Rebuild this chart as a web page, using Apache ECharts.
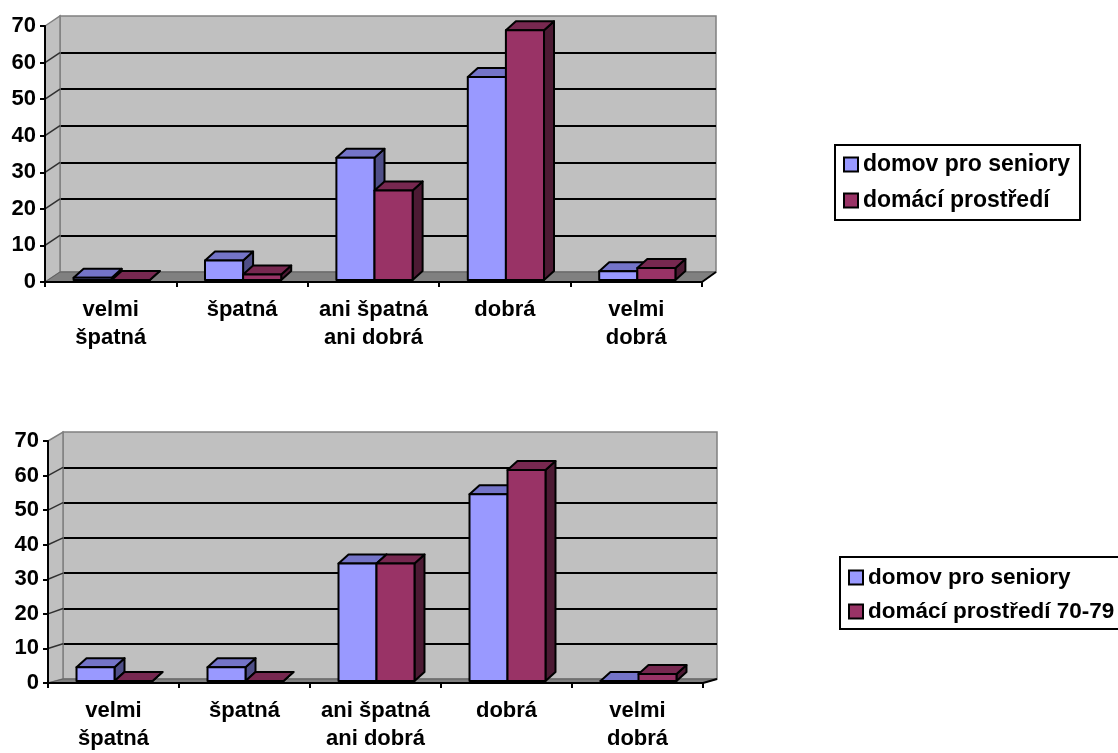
<!DOCTYPE html>
<html>
<head>
<meta charset="utf-8">
<script src="https://cdn.jsdelivr.net/npm/echarts@6/dist/echarts.min.js"></script>
<style>
  html, body { margin: 0; padding: 0; background: #fff; }
  #chart { width: 1118px; height: 753px; }
</style>
</head>
<body>
<div id="chart"></div>
<script>
// Hodnocení – dvě skupiny respondentů (v %)
const categories = ['velmi\nšpatná', 'špatná', 'ani špatná\nani dobrá', 'dobrá', 'velmi\ndobrá'];

const seriesNamesTop = ['domov pro seniory', 'domácí prostředí'];
const seniorHomeTop = [0.6, 5.3, 33.4, 55.5, 2.4];
const homeTop = [0, 1.5, 24.5, 68.3, 3.3];

const seriesNamesBottom = ['domov pro seniory', 'domácí prostředí 70-79'];
const seniorHomeBottom = [4, 4, 34, 54, 0];
const homeBottom = [0, 0, 34, 61, 2];

const yMin = 0;
const yMax = 70;
const yStep = 10;

// Layout: each chart has a front plane (axes) and a back wall shifted up/right.
const panels = [
  { front: { left: 45, top: 26, width: 657, height: 256 },
    back:  { left: 60, top: 16, width: 656, height: 256 } },
  { front: { left: 48, top: 441, width: 655, height: 247 },
    back:  { left: 63, top: 432, width: 654, height: 247 } }
];

const FONT = '"Liberation Sans", Arial, sans-serif';
const faceColors = [
  { front: '#9999ff', top: '#7474c8', side: '#4f4f88' },
  { front: '#993366', top: '#772850', side: '#4c1a33' }
];

// 3D column: front face, top face and right side face
function makeRenderItem(sideIdx) {
  return function (params, api) {
    const cat = api.value(0);
    const val = api.value(1);
    const base = api.coord([cat, 0]);
    const top = api.coord([cat, val]);
    const catW = api.size([1, 0])[0];
    const bw = catW * 0.29;
    const ox = 1, oy = -2;     // columns stand slightly behind the front edge
    const dx = 10, dy = -9;    // column depth
    const x0 = base[0] + (sideIdx === 0 ? -bw : 0) + ox;
    const x1 = x0 + bw;
    const yb = base[1] + oy;
    const yt = top[1] + oy;
    const c = faceColors[sideIdx];
    const stroke = { stroke: '#000', lineWidth: 2, lineJoin: 'round' };
    return {
      type: 'group',
      children: [
        { type: 'polygon', shape: { points: [[x1, yt], [x1 + dx, yt + dy], [x1 + dx, yb + dy], [x1, yb]] },
          style: Object.assign({ fill: c.side }, stroke) },
        { type: 'polygon', shape: { points: [[x0, yt], [x0 + dx, yt + dy], [x1 + dx, yt + dy], [x1, yt]] },
          style: Object.assign({ fill: c.top }, stroke) },
        { type: 'rect', shape: { x: x0, y: yt, width: bw, height: Math.max(yb - yt, 0) },
          style: Object.assign({ fill: c.front }, stroke) }
      ]
    };
  };
}

const grids = [];
const xAxes = [];
const yAxes = [];
panels.forEach(function (p, i) {
  grids.push(Object.assign({ containLabel: false, z: 0 }, p.front));
  grids.push(Object.assign({ show: true, backgroundColor: '#c0c0c0', borderColor: '#808080', borderWidth: 1.5, z: 0 }, p.back));
  xAxes.push({
    gridIndex: 2 * i, type: 'category', data: categories, z: 6,
    axisLine: { lineStyle: { color: '#000', width: 2 } },
    axisTick: { show: true, length: 5, lineStyle: { color: '#000', width: 2 } },
    axisLabel: { interval: 0, color: '#000', fontFamily: FONT, fontSize: 22, fontWeight: 'bold', lineHeight: 28, margin: 14 }
  });
  xAxes.push({ gridIndex: 2 * i + 1, type: 'category', data: categories, show: false });
  yAxes.push({
    gridIndex: 2 * i, type: 'value', min: yMin, max: yMax, interval: yStep, z: 6,
    axisLine: { show: true, lineStyle: { color: '#000', width: 2 } },
    axisTick: { show: true, length: 5, lineStyle: { color: '#000', width: 2 } },
    axisLabel: { color: '#000', fontFamily: FONT, fontSize: 22, fontWeight: 'bold', margin: 9 },
    splitLine: { show: false }
  });
  yAxes.push({
    gridIndex: 2 * i + 1, type: 'value', min: yMin, max: yMax, interval: yStep, z: 0.5,
    axisLine: { show: false }, axisTick: { show: false }, axisLabel: { show: false },
    splitLine: { show: true, showMinLine: false, showMaxLine: false, lineStyle: { color: '#000', width: 2 } }
  });
});

function barSeries(name, values, panelIdx, sideIdx) {
  return {
    name: name,
    type: 'custom',
    coordinateSystem: 'cartesian2d',
    xAxisIndex: 2 * panelIdx,
    yAxisIndex: 2 * panelIdx,
    itemStyle: { color: faceColors[sideIdx].front },
    renderItem: makeRenderItem(sideIdx),
    encode: { x: 0, y: 1 },
    data: values.map(function (v, k) { return [k, v]; }),
    z: 3,
    silent: true
  };
}

const legendCommon = {
  orient: 'vertical', icon: 'rect', itemWidth: 14, itemHeight: 14,
  borderColor: '#000', borderWidth: 2, backgroundColor: '#fff',
  selectedMode: false,
  itemStyle: { borderColor: '#000', borderWidth: 2 }
};
function legendText(size) {
  return { color: '#000', fontFamily: FONT, fontSize: size, fontWeight: 'bold' };
}

const chart = echarts.init(document.getElementById('chart'), null, { renderer: 'canvas' });
chart.setOption({
  backgroundColor: '#fff',
  animation: false,
  grid: grids,
  xAxis: xAxes,
  yAxis: yAxes,
  legend: [
    Object.assign({}, legendCommon, { data: seriesNamesTop, left: 835, top: 145, padding: [8, 10, 8, 8], itemGap: 13, textStyle: legendText(23) }),
    Object.assign({}, legendCommon, { data: seriesNamesBottom, left: 840, top: 557, padding: [9, 10, 6, 8], itemGap: 11, textStyle: legendText(22.5) })
  ],
  series: [
    barSeries(seriesNamesTop[0], seniorHomeTop, 0, 0),
    barSeries(seriesNamesTop[1], homeTop, 0, 1),
    barSeries(seriesNamesBottom[0], seniorHomeBottom, 1, 0),
    barSeries(seriesNamesBottom[1], homeBottom, 1, 1)
  ]
});

// Floor, left side wall and its gridline segments, placed from the axis scales
const graphics = [];
panels.forEach(function (p, i) {
  const f = p.front, b = p.back;
  const fy = function (v) { return chart.convertToPixel({ yAxisIndex: 2 * i }, v); };
  const by = function (v) { return chart.convertToPixel({ yAxisIndex: 2 * i + 1 }, v); };
  const fRight = f.left + f.width, bRight = b.left + b.width;
  graphics.push({
    type: 'polygon', z: 1,
    shape: { points: [[f.left, fy(yMax)], [b.left, by(yMax)], [b.left, by(yMin)], [f.left, fy(yMin)]] },
    style: { fill: '#c0c0c0', stroke: '#808080', lineWidth: 1.5 }
  });
  graphics.push({
    type: 'polygon', z: 1,
    shape: { points: [[f.left, fy(yMin)], [fRight, fy(yMin)], [bRight, by(yMin)], [b.left, by(yMin)]] },
    style: { fill: '#808080', stroke: '#606060', lineWidth: 1 }
  });
  graphics.push({
    type: 'line', z: 1,
    shape: { x1: fRight, y1: fy(yMin), x2: bRight, y2: by(yMin) },
    style: { stroke: '#000', lineWidth: 2 }
  });
  for (let v = yMin + yStep; v < yMax; v += yStep) {
    graphics.push({
      type: 'line', z: 1,
      shape: { x1: f.left, y1: fy(v), x2: b.left, y2: by(v) },
      style: { stroke: '#303030', lineWidth: 1.5 }
    });
  }
});
chart.setOption({ graphic: graphics });
</script>
</body>
</html>
